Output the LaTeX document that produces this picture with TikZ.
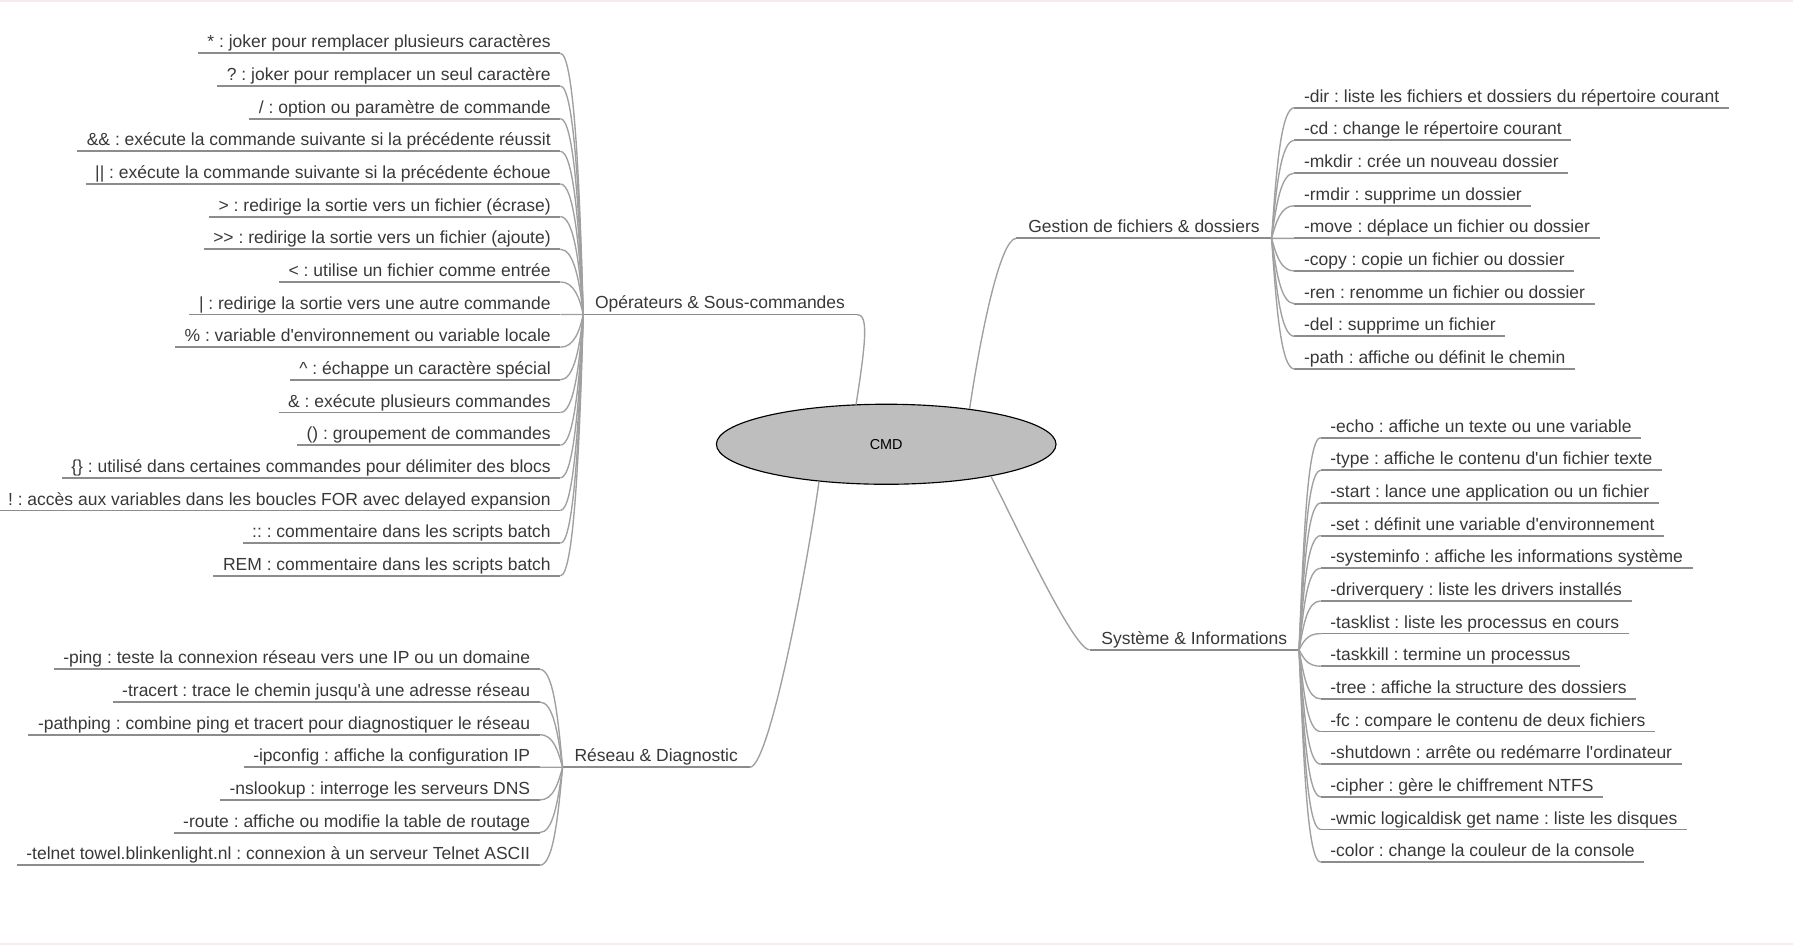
\documentclass[tikz,border=0pt]{standalone}
\usepackage{fontspec}
\setmainfont{Liberation Sans}
\usetikzlibrary{shapes.geometric}
\definecolor{txt}{HTML}{383838}
\definecolor{edgec}{HTML}{A0A0A0}
\definecolor{ulc}{HTML}{8C8C8C}
\definecolor{rootfill}{HTML}{BEBEBE}
\definecolor{rim}{HTML}{F7E9EC}
\frenchspacing
\begin{document}
\begin{tikzpicture}[x=0.5pt,y=-0.5pt,
  leaf/.style={font=\fontsize{7.65}{9}\selectfont, text=txt, inner xsep=4pt, inner ysep=2.2pt, text height=5.6pt, text depth=0pt},
  topic/.style={leaf, inner xsep=5pt},
  edge/.style={draw=edgec, line width=0.6pt},
  under/.style={draw=ulc, line width=0.8pt},
  rootnode/.style={ellipse, draw=black, line width=0.5pt, fill=rootfill, minimum width=148.5pt, minimum height=35pt, inner sep=0pt, font=\fontsize{6.3}{7}\selectfont}]
\useasboundingbox (0,0) rectangle (1568,826);
\draw[rim, line width=1pt] (0,0.6) -- (1568,0.6);
\draw[rim, line width=1pt] (0,825.4) -- (1568,825.4);

% root
\node[rootnode] (root) at (775,388.5) {CMD};

% topics
\node[topic, anchor=south west] (op) at (510,275) {Opérateurs \& Sous-commandes};
\draw[under] (op.south west) -- (op.south east);
\draw[edge] (op.south east) .. controls +(10,0) and +(9,-58) .. (root.127);

\node[topic, anchor=south east] (ges) at (1112,208.4) {Gestion de fichiers \& dossiers};
\draw[under] (ges.south west) -- (ges.south east);
\draw[edge] (root.23) .. controls +(10,-67) and +(-14,0) .. (ges.south west);

\node[topic, anchor=south east] (sys) at (1136,568.2) {Système \& Informations};
\draw[under] (sys.south west) -- (sys.south east);
\draw[edge] (root.-17) .. controls +(21,41) and +(-14,0) .. (sys.south west);

\node[topic, anchor=south west] (res) at (492,671) {Réseau \& Diagnostic};
\draw[under] (res.south west) -- (res.south east);
\draw[edge] (root.-151) .. controls +(-8,60) and +(18,0) .. (res.south east);

% Operateurs children
\foreach \txt [count=\i from 0] in {
  {* : joker pour remplacer plusieurs caractères},
  {? : joker pour remplacer un seul caractère},
  {/ : option ou paramètre de commande},
  {\&\& : exécute la commande suivante si la précédente réussit},
  {|| : exécute la commande suivante si la précédente échoue},
  {> : redirige la sortie vers un fichier (écrase)},
  {>{}> : redirige la sortie vers un fichier (ajoute)},
  {< : utilise un fichier comme entrée},
  {| : redirige la sortie vers une autre commande},
  {\% : variable d\textquotesingle environnement ou variable locale},
  {\textasciicircum\ : échappe un caractère spécial},
  {\& : exécute plusieurs commandes},
  {() : groupement de commandes},
  {\{\} : utilisé dans certaines commandes pour délimiter des blocs},
  {! : accès aux variables dans les boucles FOR avec delayed expansion},
  {:: : commentaire dans les scripts batch},
  {REM : commentaire dans les scripts batch}}{
  \pgfmathsetmacro\yu{46.6+28.56*\i}
  \pgfmathsetmacro\dy{0.5*(\yu-275)}
  \node[leaf, anchor=south east] (o\i) at (490,\yu) {\txt};
  \draw[under] (o\i.south west) -- (o\i.south east);
  \draw[edge] (op.south west) .. controls +(-3,\dy) and +(12,0) .. (o\i.south east);
}

% Gestion children
\foreach \txt [count=\i from 0] in {
  {-dir : liste les fichiers et dossiers du répertoire courant},
  {-cd : change le répertoire courant},
  {-mkdir : crée un nouveau dossier},
  {-rmdir : supprime un dossier},
  {-move : déplace un fichier ou dossier},
  {-copy : copie un fichier ou dossier},
  {-ren : renomme un fichier ou dossier},
  {-del : supprime un fichier},
  {-path : affiche ou définit le chemin}}{
  \pgfmathsetmacro\yu{94.2+28.56*\i}
  \pgfmathsetmacro\dy{0.5*(\yu-208.4)}
  \node[leaf, anchor=south west] (g\i) at (1132,\yu) {\txt};
  \draw[under] (g\i.south west) -- (g\i.south east);
  \draw[edge] (ges.south east) .. controls +(4,\dy) and +(-12,0) .. (g\i.south west);
}

% Systeme children
\foreach \txt [count=\i from 0] in {
  {-echo : affiche un texte ou une variable},
  {-type : affiche le contenu d\textquotesingle un fichier texte},
  {-start : lance une application ou un fichier},
  {-set : définit une variable d\textquotesingle environnement},
  {-systeminfo : affiche les informations système},
  {-driverquery : liste les drivers installés},
  {-tasklist : liste les processus en cours},
  {-taskkill : termine un processus},
  {-tree : affiche la structure des dossiers},
  {-fc : compare le contenu de deux fichiers},
  {-shutdown : arrête ou redémarre l\textquotesingle ordinateur},
  {-cipher : gère le chiffrement NTFS},
  {-wmic logicaldisk get name : liste les disques},
  {-color : change la couleur de la console}}{
  \pgfmathsetmacro\yu{382.7+28.56*\i}
  \pgfmathsetmacro\dy{0.5*(\yu-568.2)}
  \node[leaf, anchor=south west] (s\i) at (1155,\yu) {\txt};
  \draw[under] (s\i.south west) -- (s\i.south east);
  \draw[edge] (sys.south east) .. controls +(4,\dy) and +(-12,0) .. (s\i.south west);
}

% Reseau children
\foreach \txt [count=\i from 0] in {
  {-ping : teste la connexion réseau vers une IP ou un domaine},
  {-tracert : trace le chemin jusqu\textquotesingle à une adresse réseau},
  {-pathping : combine ping et tracert pour diagnostiquer le réseau},
  {-ipconfig : affiche la configuration IP},
  {-nslookup : interroge les serveurs DNS},
  {-route : affiche ou modifie la table de routage},
  {-telnet towel.blinkenlight.nl : connexion à un serveur Telnet ASCII}}{
  \pgfmathsetmacro\yu{585.3+28.56*\i}
  \pgfmathsetmacro\dy{0.5*(\yu-671)}
  \node[leaf, anchor=south east] (r\i) at (472,\yu) {\txt};
  \draw[under] (r\i.south west) -- (r\i.south east);
  \draw[edge] (res.south west) .. controls +(-4,\dy) and +(12,0) .. (r\i.south east);
}
\end{tikzpicture}
\end{document}
